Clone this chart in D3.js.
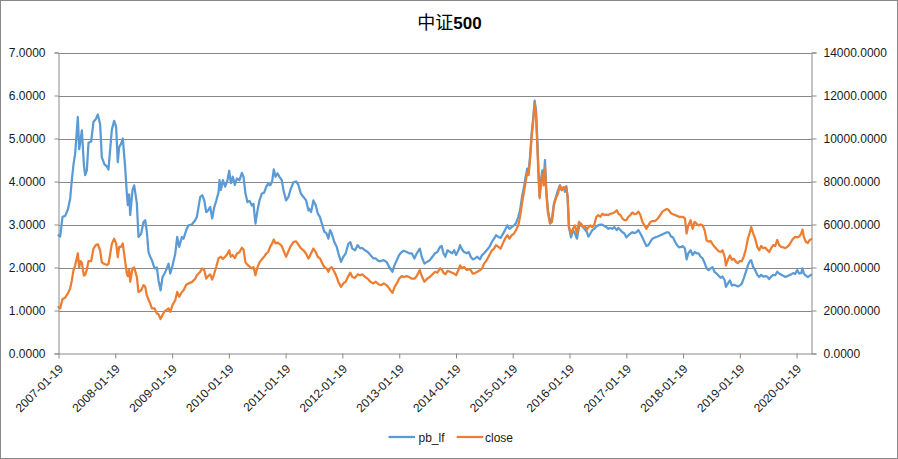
<!DOCTYPE html>
<html>
<head>
<meta charset="utf-8">
<script src="https://cdn.jsdelivr.net/npm/d3@7"></script>
<style>
  html, body { margin: 0; padding: 0; background: #fff; }
  svg { display: block; }
  text { font-family: "Liberation Sans", Arial, sans-serif; }
</style>
</head>
<body>
<svg id="chart" width="898" height="459"></svg>
<script>
// ---- data ----
const title = "中证500";
const seriesNames = ["pb_lf", "close"];
const xTickLabels = ["2007-01-19","2008-01-19","2009-01-19","2010-01-19","2011-01-19","2012-01-19","2013-01-19",
  "2014-01-19","2015-01-19","2016-01-19","2017-01-19","2018-01-19","2019-01-19","2020-01-19"];
const xEnd = "2020-04-24";
const leftTicks = [0,1,2,3,4,5,6,7];
const rightTicks = [0,2000,4000,6000,8000,10000,12000,14000];

// decimal-year positions of samples
const dates = [
  2007.050,2007.079,2007.120,2007.167,2007.214,2007.255,2007.284,2007.314,2007.343,2007.390,2007.414,2007.437,2007.461,2007.496,2007.519,2007.549,2007.578,2007.625,2007.666,2007.707,2007.742,2007.783,2007.813,2007.860,2007.901,2007.930,2007.959,2007.989,2008.030,2008.065,2008.094,2008.118,2008.153,2008.182,2008.223,2008.253,2008.270,2008.294,2008.312,2008.353,2008.382,2008.429,2008.458,2008.505,2008.546,2008.576,2008.605,2008.634,2008.664,2008.693,2008.740,2008.781,2008.810,2008.846,2008.881,2008.916,2008.957,2008.986,2009.016,2009.057,2009.104,2009.139,2009.174,2009.221,
  2009.251,2009.298,2009.339,2009.397,2009.456,2009.485,2009.515,2009.544,2009.579,2009.615,2009.650,2009.685,2009.720,2009.755,2009.791,2009.826,2009.867,2009.885,2009.908,2009.943,2009.984,2010.025,2010.055,2010.084,2010.119,2010.155,2010.190,2010.237,2010.278,2010.307,2010.342,2010.378,2010.413,2010.454,2010.483,2010.518,2010.554,2010.589,2010.630,2010.671,2010.706,2010.741,2010.777,2010.812,2010.841,2010.871,2010.906,2010.941,2010.982,2011.011,2011.058,2011.099,2011.140,2011.187,2011.234,2011.275,2011.317,2011.364,2011.410,2011.452,
  2011.462,2011.498,2011.539,2011.580,2011.615,2011.656,2011.697,2011.732,2011.768,2011.803,2011.832,2011.862,2011.908,2011.950,2011.979,2012.026,2012.067,2012.108,2012.155,2012.190,2012.225,2012.272,2012.319,2012.360,2012.401,2012.448,2012.495,2012.542,2012.595,2012.636,2012.683,2012.730,2012.777,2012.824,2012.859,2012.900,2012.930,2012.965,2013.006,2013.047,2013.094,2013.129,2013.182,2013.223,2013.270,2013.317,2013.358,2013.411,2013.446,2013.493,2013.540,2013.587,2013.634,
  2013.681,2013.722,2013.769,2013.798,2013.828,2013.863,2013.898,2013.945,2013.980,2014.016,2014.051,2014.092,2014.121,2014.156,2014.192,2014.239,2014.274,2014.309,2014.344,2014.385,2014.426,2014.473,2014.509,2014.544,2014.591,2014.638,2014.685,2014.720,2014.755,2014.796,2014.837,2014.872,2014.914,2014.955,2014.990,2015.031,2015.072,2015.107,2015.148,2015.178,2015.213,2015.248,2015.277,2015.307,2015.330,2015.354,2015.383,2015.412,2015.436,2015.459,2015.483,2015.506,2015.524,2015.547,2015.571,2015.594,2015.618,2015.641,2015.671,2015.706,2015.741,2015.776,2015.811,2015.847,
  2015.882,2015.911,2015.947,2015.970,2015.994,2016.017,2016.040,2016.076,2016.111,2016.146,2016.181,2016.217,2016.252,2016.287,2016.322,2016.357,2016.381,2016.416,2016.451,2016.487,2016.522,2016.557,2016.592,2016.627,2016.663,2016.698,2016.733,2016.768,2016.803,2016.839,2016.880,2016.909,2016.944,2016.980,2017.015,2017.050,2017.085,2017.120,2017.156,2017.191,2017.226,2017.261,2017.296,2017.332,2017.367,2017.402,2017.437,2017.473,2017.508,2017.555,2017.602,2017.649,2017.684,2017.731,2017.766,2017.801,2017.836,2017.872,2017.907,2017.942,2017.977,2018.024,
  2018.041,2018.082,2018.111,2018.141,2018.182,2018.217,2018.252,2018.287,2018.323,2018.358,2018.393,2018.428,2018.464,2018.499,2018.534,2018.569,2018.604,2018.640,2018.675,2018.710,2018.745,2018.780,2018.804,2018.839,2018.874,2018.910,2018.945,2018.980,2019.015,2019.050,2019.086,2019.121,2019.156,2019.191,2019.226,2019.250,2019.285,2019.320,2019.356,2019.391,2019.426,2019.461,2019.496,2019.532,2019.567,2019.602,2019.637,2019.673,2019.708,2019.743,2019.778,2019.813,2019.849,2019.884,2019.919,2019.954,2019.989,2020.025,2020.060,2020.095,2020.130,2020.154,2020.177,2020.212,2020.248,2020.283,2020.306
];

const pbLf = [
  2.75,2.72,3.18,3.20,3.35,3.60,4.03,4.40,4.65,5.50,4.75,4.95,5.19,4.40,4.15,4.26,4.90,4.93,5.39,5.45,5.56,5.33,4.56,4.40,4.35,4.28,4.73,5.20,5.41,5.27,4.45,4.80,4.88,5.00,4.34,3.72,3.45,3.70,3.22,3.80,3.91,3.49,2.71,2.79,3.06,3.10,2.83,2.36,2.25,2.17,1.98,2.00,1.70,1.47,1.78,1.86,1.98,2.09,1.86,2.05,2.32,2.71,2.48,2.71,
  2.67,2.87,2.98,3.00,3.10,3.18,3.41,3.64,3.68,3.56,3.29,3.33,3.41,3.14,3.40,3.55,3.75,4.03,3.80,4.03,3.88,4.03,4.25,3.96,4.11,3.92,4.07,4.03,4.20,4.11,3.72,3.52,3.55,3.44,3.48,3.02,3.33,3.56,3.72,3.74,3.87,3.95,3.91,4.00,4.28,4.11,4.19,4.11,4.03,3.80,3.56,3.64,3.83,3.98,4.00,3.92,3.72,3.64,3.56,3.33,
  3.37,3.29,3.56,3.45,3.26,3.17,2.98,2.83,2.80,2.67,2.87,2.79,2.59,2.48,2.33,2.13,2.25,2.33,2.55,2.59,2.44,2.40,2.52,2.45,2.45,2.40,2.36,2.29,2.21,2.21,2.15,2.15,2.17,2.13,2.05,1.95,1.90,2.05,2.17,2.29,2.36,2.39,2.36,2.33,2.33,2.21,2.33,2.44,2.25,2.09,2.13,2.17,2.25,
  2.33,2.36,2.48,2.50,2.33,2.25,2.40,2.36,2.33,2.40,2.29,2.40,2.52,2.42,2.36,2.33,2.36,2.25,2.19,2.21,2.25,2.19,2.29,2.33,2.40,2.48,2.60,2.67,2.75,2.71,2.69,2.77,2.87,2.98,2.90,2.94,2.98,3.03,3.18,3.33,3.64,3.87,4.11,4.30,4.26,4.57,5.12,5.50,5.88,5.66,4.96,4.18,3.64,4.03,4.26,4.03,4.50,3.80,3.33,3.06,3.14,3.49,3.64,3.80,
  3.91,3.80,3.87,3.76,3.89,3.64,2.94,2.70,2.87,2.79,2.67,2.94,3.02,2.94,2.88,2.82,2.72,2.79,2.87,2.90,2.96,2.98,3.00,3.00,2.96,2.94,2.90,2.92,2.90,2.94,2.87,2.92,2.87,2.82,2.79,2.70,2.75,2.79,2.82,2.80,2.82,2.87,2.79,2.70,2.60,2.50,2.52,2.60,2.67,2.70,2.72,2.75,2.77,2.80,2.82,2.81,2.72,2.70,2.60,2.52,2.47,2.48,
  2.50,2.44,2.19,2.33,2.40,2.29,2.36,2.33,2.33,2.25,2.21,2.11,1.98,1.94,1.98,2.01,1.90,1.86,1.81,1.76,1.79,1.71,1.55,1.63,1.70,1.58,1.60,1.58,1.56,1.58,1.63,1.76,1.90,2.05,2.15,2.17,2.01,1.94,1.83,1.78,1.83,1.79,1.80,1.79,1.73,1.79,1.83,1.82,1.90,1.86,1.83,1.81,1.78,1.80,1.82,1.84,1.87,1.85,1.94,1.86,1.87,1.98,1.86,1.81,1.78,1.81,1.83
];

const closeVals = [
  2160,2100,2520,2600,2800,3020,3400,3880,4100,4660,4000,4300,4220,3620,3660,3900,4300,4300,4880,5040,5080,4800,4240,4160,4120,4160,4600,5100,5340,5120,4480,4960,4960,5120,4300,3720,3600,3900,3340,3960,4000,3560,2860,2940,3180,3100,2700,2500,2320,2100,2100,1860,1820,1600,1800,1960,2040,2100,1940,2260,2480,2860,2640,2860,
  2940,3200,3260,3320,3480,3640,3720,3800,3960,3880,3480,3600,3680,3440,3720,4020,4420,4460,4500,4400,4500,4640,4800,4500,4580,4440,4640,4720,4920,4840,4240,4120,4040,3960,4020,3640,4020,4240,4380,4500,4640,4720,4960,5120,5300,5120,5160,5100,5000,4800,4500,4760,5000,5180,5220,5060,4900,4800,4640,4420,
  4460,4660,4880,4720,4500,4420,4180,4020,3960,3800,3960,4020,3800,3560,3320,3100,3260,3340,3600,3760,3560,3520,3680,3640,3680,3560,3480,3340,3260,3340,3220,3180,3260,3180,3080,2920,2820,3080,3260,3480,3600,3560,3600,3560,3480,3480,3600,3880,3600,3340,3480,3560,3680,
  3800,3760,3960,3920,3760,3680,3840,3800,3760,3720,3640,3880,4100,3960,4020,3880,3920,3880,3720,3740,3800,3880,3960,4180,4340,4580,4800,4880,5040,4960,4880,5100,5340,5500,5340,5500,5580,5740,5960,6360,6980,7520,7980,8440,8300,9000,10080,10840,11650,11160,9620,8060,7220,7900,8360,7820,8660,7440,6520,6040,6120,6900,7220,7440,
  7820,7600,7740,7700,7700,7280,5880,5580,5800,5960,5580,6120,6000,5880,5920,5760,5880,5960,5880,6000,6360,6440,6360,6500,6440,6460,6440,6500,6520,6560,6660,6500,6440,6280,6200,6200,6360,6440,6560,6480,6500,6600,6440,6120,5960,5800,5960,6120,6160,6160,6280,6440,6600,6680,6720,6660,6520,6480,6440,6400,6360,6360,
  6360,6280,5580,5960,6200,5800,6120,6040,5960,6000,5960,5740,5260,5200,5240,5080,4960,4860,4760,4720,4800,4520,4100,4360,4560,4360,4400,4260,4200,4300,4300,4520,4860,5340,5640,5880,5580,5340,4960,4800,5000,4900,4920,4820,4720,4900,5040,5000,5280,5040,4960,4940,4900,4960,5040,5200,5340,5420,5400,5440,5580,5760,5420,5200,5140,5280,5320
];

// ---- drawing ----
const W = 898, H = 459;
const plot = { left: 58.5, right: 811.5, top: 52.5, bottom: 353.5 };
const gridColor = "#898989";
const textColor = "#1a1a1a";
const colors = ["#5B9BD5", "#ED7D31"];

const parse = d3.utcParse("%Y-%m-%d");
function yearToDate(t) {
  const y = Math.floor(t);
  const a = Date.UTC(y, 0, 1), b = Date.UTC(y + 1, 0, 1);
  return new Date(a + (t - y) * (b - a));
}

const svg = d3.select("#chart");
svg.append("rect").attr("x", 0.5).attr("y", 0.5).attr("width", W - 1).attr("height", H - 1)
  .attr("fill", "#fff").attr("stroke", gridColor).attr("stroke-width", 1);

const x = d3.scaleUtc().domain([parse(xTickLabels[0]), parse(xEnd)]).range([plot.left, plot.right]);
const yL = d3.scaleLinear().domain([0, 7]).range([plot.bottom, plot.top]);
const yR = d3.scaleLinear().domain([0, 14000]).range([plot.bottom, plot.top]);

// gridlines
svg.append("g").selectAll("line").data(leftTicks.filter(d => d > 0)).join("line")
  .attr("x1", plot.left).attr("x2", plot.right)
  .attr("y1", d => Math.round(yL(d)) + 0.5).attr("y2", d => Math.round(yL(d)) + 0.5)
  .attr("stroke", gridColor).attr("stroke-width", 1);

// left axis
const gL = svg.append("g").attr("transform", `translate(${plot.left},0)`)
  .call(d3.axisLeft(yL).tickValues(leftTicks).tickFormat(d3.format(".4f")).tickSize(4).tickPadding(9));
// right axis
const gR = svg.append("g").attr("transform", `translate(${plot.right},0)`)
  .call(d3.axisRight(yR).tickValues(rightTicks).tickFormat(d3.format(".4f")).tickSize(5).tickPadding(7));
// bottom axis
const gB = svg.append("g").attr("transform", `translate(0,${plot.bottom})`)
  .call(d3.axisBottom(x).tickValues(xTickLabels.map(parse)).tickFormat(d3.utcFormat("%Y-%m-%d")).tickSize(5).tickSizeOuter(0));

[gL, gR, gB].forEach(g => {
  g.select(".domain").attr("stroke", gridColor);
  g.selectAll(".tick line").attr("stroke", gridColor);
  g.selectAll(".tick text").attr("fill", textColor).style("font-size", "12px")
    .style("font-family", '"Liberation Sans", Arial, sans-serif');
});
gB.selectAll(".tick text")
  .attr("text-anchor", "end")
  .attr("dy", null).attr("y", null)
  .attr("transform", "translate(5,16) rotate(-45)");

// lines
const pts = dates.map((t, i) => ({ d: yearToDate(t), pb: pbLf[i], close: closeVals[i] }));
const linePb = d3.line().x(d => x(d.d)).y(d => yL(d.pb));
const lineClose = d3.line().x(d => x(d.d)).y(d => yR(d.close));
svg.append("path").datum(pts).attr("d", linePb).attr("fill", "none")
  .attr("stroke", colors[0]).attr("stroke-width", 2.25).attr("stroke-linejoin", "round").attr("stroke-linecap", "round");
svg.append("path").datum(pts).attr("d", lineClose).attr("fill", "none")
  .attr("stroke", colors[1]).attr("stroke-width", 2.25).attr("stroke-linejoin", "round").attr("stroke-linecap", "round");

// title
const tt = svg.append("text").attr("x", 449.5).attr("y", 28.5).attr("text-anchor", "middle").attr("fill", "#000");
tt.append("tspan").text(title.slice(0, 2))
  .style("font-family", '"Noto Sans CJK SC", sans-serif').style("font-size", "18px");
tt.append("tspan").text(title.slice(2))
  .style("font-family", '"Liberation Sans", Arial, sans-serif').style("font-size", "17px").style("font-weight", "bold");

// legend
const legendItems = [
  { name: seriesNames[0], color: colors[0], x1: 388.5, x2: 415, tx: 418.5 },
  { name: seriesNames[1], color: colors[1], x1: 456.7, x2: 483.3, tx: 485 }
];
const lg = svg.append("g");
legendItems.forEach(it => {
  lg.append("line").attr("x1", it.x1).attr("x2", it.x2).attr("y1", 437).attr("y2", 437)
    .attr("stroke", it.color).attr("stroke-width", 2.25);
  lg.append("text").attr("x", it.tx).attr("y", 441.5).text(it.name)
    .attr("fill", textColor).style("font-size", "12px");
});
</script>
</body>
</html>
